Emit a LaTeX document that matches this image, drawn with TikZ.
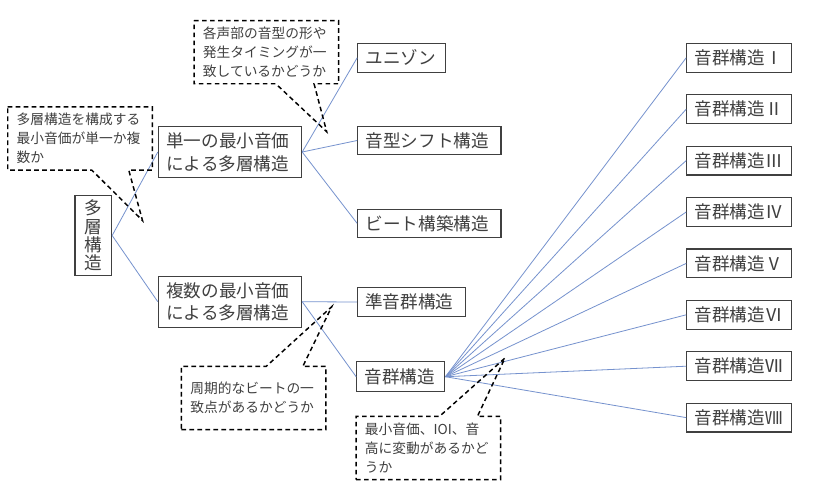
\documentclass[tikz,border=0pt]{standalone}
\usepackage{fontspec}
\setmainfont{Noto Sans CJK JP}
\usepackage{tikz}
\definecolor{linkblue}{RGB}{118,146,206}
\definecolor{txtgray}{RGB}{64,64,64}

\begin{document}
\begin{tikzpicture}[x=0.75pt,y=-0.75pt,
	frame/.style={draw=txtgray, line width=0.8pt, text=txtgray, font=\fontsize{13.2}{17}\selectfont},
	box/.style 2 args={frame, align=left, inner xsep=6pt, inner ysep=0pt, text width=#1, minimum height=#2},
	link/.style={draw=linkblue, line width=0.6pt},
	note/.style={text=txtgray, align=left, inner xsep=6.5pt, inner ysep=0pt, text width=95pt,
		minimum height=46.9pt, font=\fontsize{10.3}{14.2}\selectfont},
	dashline/.style={draw=black, line width=1.1pt, dash pattern=on 3.5pt off 2.5pt, line join=miter}]
%	\draw [help lines] (0,0) grid (816,487);
	\useasboundingbox (0,0) rectangle (816,487);
	\fill[white] (0,0) rectangle (816,487);

	\node [frame, align=center, inner sep=0pt, minimum width=27.5pt, minimum height=60.5pt,
		font=\fontsize{13.2}{13.7}\selectfont] (root) at (93.3,235.5) {多\\層\\構\\造};
	\node [box={95.5pt}{38pt}] (single) at (230,152) {単一の最小音価\\による多層構造};
	\node [box={95.5pt}{38pt}] (multi) at (230,301.7) {複数の最小音価\\による多層構造};

	\node [box={54pt}{21.75pt}] (unison) at (401.7,57.8) {ユニゾン};
	\node [box={95.5pt}{21.4pt}] (shift) at (429.3,140.5) {音型シフト構造};
	\node [box={95.5pt}{21.4pt}] (beat) at (429.3,223.3) {ビート構築構造};
	\node [box={68.8pt}{22pt}] (quasi) at (411.2,302) {準音群構造};
	\node [box={54.2pt}{22.5pt}] (group) at (400.8,376.7) {音群構造};

	\foreach \num [count=\i] in {Ⅰ,Ⅱ,Ⅲ,Ⅳ,Ⅴ,Ⅵ,Ⅶ,Ⅷ}
		\node [box={66.75pt}{21.6pt}] (g\i) at (739.2,{57.8+51.4*(\i-1)}) {音群構造\num};

	\draw [link] (root.east) -- (single.west);
	\draw [link] (root.east) -- (multi.west);
	\foreach \k in {unison,shift,beat}
		\draw [link] (single.east) -- (\k.west);
	\draw [link] (multi.east) -- (quasi.west);
	\draw [link] (multi.east) -- (group.west);
	\foreach \i in {1,...,8}
		\draw [link] (group.east) -- (g\i.west);

	% callouts
	\coordinate (tip1) at (142.5,220.5);
	\coordinate (tip2) at (326.7,131.7);
	\coordinate (tip3) at (331.7,306.7);
	\coordinate (tip4) at (505,358);
	\node [note] (note1) at (80,138.5) {多層構造を構成する\\最小音価が単一か複\\数か};
	\node [note] (note2) at (266.3,52.2) {各声部の音型の形や\\発生タイミングが一\\致しているかどうか};
	\node [note] (note3) at (253.7,398) {周期的なビートの一\\致点があるかどうか};
	\node [note] (note4) at (428.3,448) {最小音価、IOI、音\\高に変動があるかど\\うか};

	\draw [dashline] (note1.north west) -- (note1.north east) -- (note1.south east)
		-- ([xshift=90.75pt]note1.south west) -- (tip1) -- ([xshift=63pt]note1.south west)
		-- (note1.south west) -- cycle;
	\draw [dashline] (note2.north west) -- (note2.north east) -- (note2.south east)
		-- ([xshift=90pt]note2.south west) -- (tip2) -- ([xshift=61.3pt]note2.south west)
		-- (note2.south west) -- cycle;
	\draw [dashline] (note3.south west) -- (note3.south east) -- (note3.north east)
		-- ([xshift=91pt]note3.north west) -- (tip3) -- ([xshift=63.5pt]note3.north west)
		-- (note3.north west) -- cycle;
	\draw [dashline] (note4.south west) -- (note4.south east) -- (note4.north east)
		-- ([xshift=91pt]note4.north west) -- (tip4) -- ([xshift=62.5pt]note4.north west)
		-- (note4.north west) -- cycle;
\end{tikzpicture}
\end{document}
